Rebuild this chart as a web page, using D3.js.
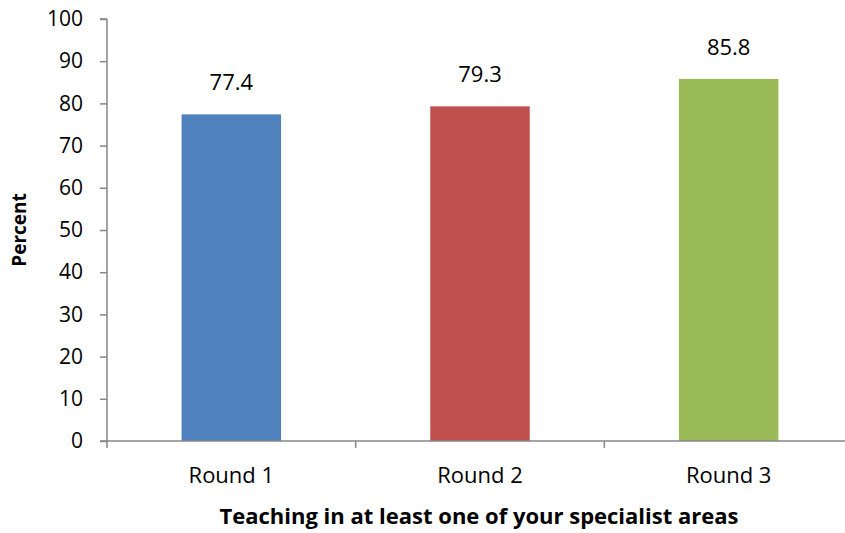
<!DOCTYPE html>
<html><head><meta charset="utf-8">
<script src="https://cdn.jsdelivr.net/npm/d3@7"></script>
<style>body{margin:0;background:#fff}svg{display:block}text{font-family:"Open Sans",sans-serif;fill:#000}</style>
</head><body><svg id="c" width="845" height="533"></svg>
<script>
const categories = ["Round 1", "Round 2", "Round 3"];
const values = [77.4, 79.3, 85.8];
const colors = ["#4F81BD", "#C0504D", "#9BBB59"];
const yTicks = [0,10,20,30,40,50,60,70,80,90,100];

const svg = d3.select("#c");
const x = d3.scaleBand().domain(categories).range([107, 853]).padding(0);
const y = d3.scaleLinear().domain([0, 100]).range([441, 19]);

// bars
const bw = x.bandwidth() * 0.4;
svg.selectAll("rect.bar").data(values).enter().append("rect")
  .attr("x", (d,i) => x(categories[i]) + x.bandwidth()/2 - bw/2)
  .attr("y", d => y(d)).attr("width", bw).attr("height", d => y(0) - y(d))
  .attr("fill", (d,i) => colors[i]);

// y axis
const yAxis = svg.append("g").attr("transform", "translate(107,0)")
  .call(d3.axisLeft(y).tickValues(yTicks).tickSize(7).tickPadding(17));
yAxis.selectAll("path,line").attr("stroke", "#868686").attr("stroke-width", 1.5);
yAxis.select(".domain").attr("d", `M0,${y(100)}H-7M0,${y(100)}V${y(0)}`);
yAxis.selectAll("text").style("font-size", "21px").style("font-family", "'Open Sans',sans-serif").attr("fill", "#000");

// x axis
const xAxis = svg.append("g").attr("transform", `translate(0,${y(0)})`)
  .call(d3.axisBottom(x).tickSize(0).tickPadding(26));
xAxis.select(".domain").attr("stroke", "#868686").attr("stroke-width", 1.5).attr("d", `M100,0H853`);
xAxis.selectAll("text").style("font-size", "22px").style("font-family", "'Open Sans',sans-serif").attr("fill", "#000");
// category boundaries
svg.append("g").selectAll("line").data(categories.slice(1)).enter().append("line")
  .attr("x1", d => x(d)).attr("x2", d => x(d)).attr("y1", y(0)).attr("y2", y(0) + 7)
  .attr("stroke", "#868686").attr("stroke-width", 1.5);
svg.append("line").attr("x1", 107).attr("x2", 107).attr("y1", y(0)).attr("y2", y(0)+7)
  .attr("stroke", "#868686").attr("stroke-width", 1.5);

// value labels
svg.selectAll("text.val").data(values).enter().append("text").attr("class","val")
  .attr("x", (d,i) => x(categories[i]) + x.bandwidth()/2)
  .attr("y", d => y(d) - 24).attr("text-anchor", "middle")
  .style("font-size", "22px").text(d => d.toFixed(1));

// axis titles
svg.append("text").attr("transform", `translate(26,${(y(0)+y(100))/2}) rotate(-90)`)
  .attr("text-anchor", "middle").style("font-size", "19px").style("font-weight", "bold").text("Percent");
svg.append("text").attr("x", 479).attr("y", 524).attr("text-anchor", "middle")
  .style("font-size", "22px").style("font-weight", "bold").text("Teaching in at least one of your specialist areas");
</script></body></html>
